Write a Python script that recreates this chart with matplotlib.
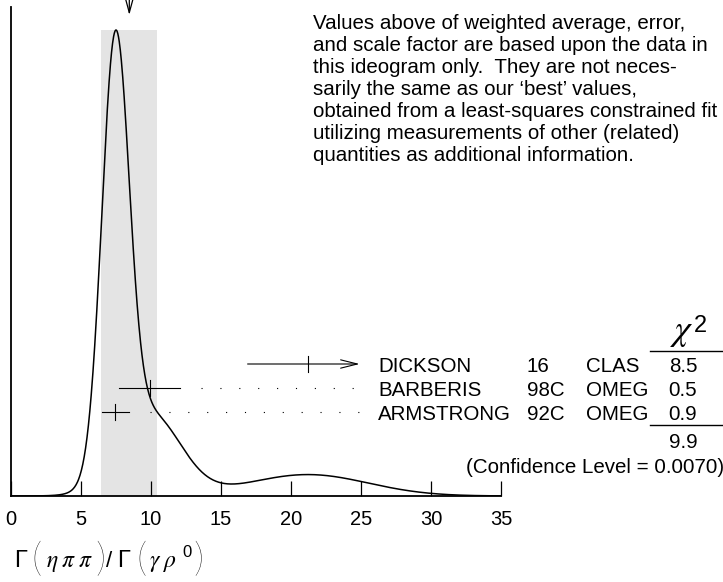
import matplotlib
matplotlib.use("Agg")
import matplotlib.pyplot as plt
import numpy as np

plt.rcParams['font.family'] = ['Liberation Sans', 'DejaVu Sans']
plt.rcParams['mathtext.fontset'] = 'stix'

# measurements, top row first
authors = ["DICKSON", "BARBERIS", "ARMSTRONG"]
years = ["16", "98C", "92C"]
techs = ["CLAS", "OMEG", "OMEG"]
values = [21.2, 9.9, 7.45]
errors = [4.3, 2.2, 0.97]
chi2 = ["8.5", "0.5", "0.9"]
chi2_total = "9.9"
conf_level = "0.0070"
avg, avg_err = 8.45, 2.0
xticks = [0, 5, 10, 15, 20, 25, 30, 35]

note = ["Values above of weighted average, error,",
        "and scale factor are based upon the data in",
        "this ideogram only.  They are not neces-",
        "sarily the same as our \u2018best\u2019 values,",
        "obtained from a least-squares constrained fit",
        "utilizing measurements of other (related)",
        "quantities as additional information."]

W, H = 723, 582
def fx(p):
    return p / W
def fy(p):
    return 1 - p / H

fig = plt.figure(figsize=(W / 100, H / 100), dpi=100)
ax = fig.add_axes([fx(11), fy(496), 490 / W, 489 / H])
ax.set_xlim(0, 35)
ax.set_ylim(0, 489 / 466)

# ideogram: one gaussian per point, weight 1/err^2
x = np.linspace(0, 35, 1400)
curve = np.zeros_like(x)
for v, e in zip(values, errors):
    curve += np.exp(-0.5 * ((x - v) / e) ** 2) / e ** 2
curve /= curve.max()

ax.axvspan(avg - avg_err, avg + avg_err, ymin=0, ymax=466 / 489, color='#e4e4e4', lw=0, zorder=0)
ax.plot(x, curve, color='black', lw=1.1, zorder=3)

trans = ax.get_xaxis_transform()
clip_x = 24.9
lead_end = 25.4
for i, (v, e) in enumerate(zip(values, errors)):
    row_px = 364 + 24 * i
    yr = (496 - row_px) / 489
    lo, hi = v - e, v + e
    if hi > clip_x:
        ax.annotate('', xy=(clip_x, yr), xytext=(lo, yr), xycoords=trans,
                    arrowprops=dict(arrowstyle='->,head_length=1.2,head_width=0.3',
                                    lw=0.8, color='black', shrinkA=0, shrinkB=0),
                    annotation_clip=False)
    else:
        ax.plot([lo, hi], [yr, yr], color='black', lw=0.8, transform=trans)
        ax.plot([hi + 1.5, lead_end], [yr, yr], color='black', lw=0.8,
                linestyle=(0, (1, 16)), transform=trans)
    ax.plot([v, v], [yr - 8 / 489, yr + 8 / 489], color='black', lw=0.8, transform=trans)

    base = row_px + 8
    fig.text(fx(378), fy(base), authors[i], fontsize=14.8, va='baseline')
    fig.text(fx(527), fy(base), years[i], fontsize=14.8, va='baseline')
    fig.text(fx(586), fy(base), techs[i], fontsize=14.8, va='baseline')
    fig.text(fx(683), fy(base), chi2[i], fontsize=14.8, va='baseline', ha='center')

# weighted average marker above the plot
ax.annotate('', xy=(avg, (496 - 15) / 489), xytext=(avg, 1.05), xycoords=trans,
            arrowprops=dict(arrowstyle='->,head_length=1.1,head_width=0.3',
                            lw=0.9, color='black', shrinkA=0, shrinkB=0),
            annotation_clip=False)

for sp in ['top', 'right']:
    ax.spines[sp].set_visible(False)
ax.spines['left'].set_linewidth(1.3)
ax.spines['bottom'].set_linewidth(1.3)
ax.set_yticks([])
ax.set_xticks(xticks)
ax.set_xticklabels([str(t) for t in xticks])
ax.tick_params(axis='x', direction='in', length=10.5, width=0.9, pad=10, labelsize=14.5)

# chi-squared column
fig.text(fx(682), fy(340), r'$\chi$', fontsize=26, ha='center', va='baseline')
fig.text(fx(694), fy(332), "2", fontsize=17, ha='left', va='baseline')
fig.add_artist(plt.Line2D([fx(650), fx(723)], [fy(351), fy(351)], color='black', lw=1.0))
fig.add_artist(plt.Line2D([fx(650), fx(723)], [fy(425), fy(425)], color='black', lw=1.0))
fig.text(fx(683), fy(448), chi2_total, fontsize=14.8, ha='center', va='baseline')
fig.text(fx(466), fy(473), "(Confidence Level = %s)" % conf_level, fontsize=14.8, va='baseline')

for i, line in enumerate(note):
    fig.text(fx(313), fy(29 + 22 * i), line, fontsize=14.8, va='baseline')

# axis title: Gamma(eta pi pi)/Gamma(gamma rho0), tall thin brackets
lab_base = 567
fig.text(fx(14), fy(lab_base), "\u0393", fontsize=17, va='baseline')
fig.text(fx(46), fy(lab_base), r'$\eta\;\pi\;\pi$', fontsize=17, va='baseline')
fig.text(fx(106), fy(lab_base), "/", fontsize=16, va='baseline')
fig.text(fx(117), fy(lab_base), "\u0393", fontsize=17, va='baseline')
fig.text(fx(149), fy(lab_base), r'$\gamma\;\rho$', fontsize=17, va='baseline')
fig.text(fx(182), fy(557), "0", fontsize=12, va='baseline')
for px_left, ch in [(31, "("), (95, ")"), (136, "("), (193, ")")]:
    fig.text(fx(px_left), fy(560), ch, fontsize=29, va='center', ha='left',
             family=['Lato', 'Liberation Sans'], fontweight='light')

fig.savefig("out.png", dpi=100)
